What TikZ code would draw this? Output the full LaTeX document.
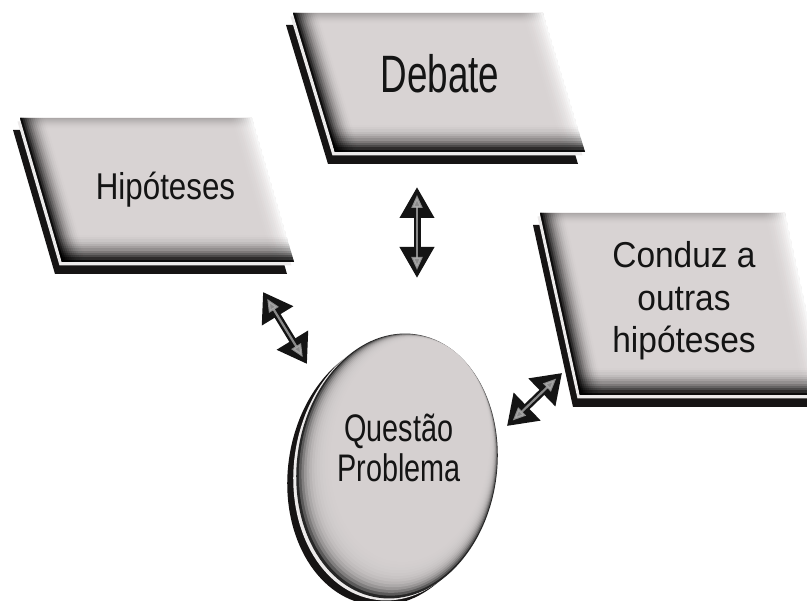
\documentclass[tikz,border=0pt]{standalone}
\usepackage{fontspec}
\setmainfont{Liberation Sans}
\usepackage{graphicx}
\usetikzlibrary{arrows.meta,calc}

\definecolor{face}{RGB}{216,211,211}
\definecolor{rim}{RGB}{236,234,234}
\definecolor{backplate}{RGB}{22,20,20}
\definecolor{ink}{RGB}{20,20,20}

% Soft band along a straight edge: from, to, half width, peak opacity, colour.
% Twelve stacked strokes whose opacities give a quadratic fall-off.
\newcommand\bevel[5]{%
  \foreach \j in {1,...,12}{%
    \pgfmathsetmacro\lw{2*#3*\j/12}%
    \pgfmathsetmacro\op{1-(1-#4*(1-(\j-1)/12)^2)/(1-#4*(1-\j/12)^2)}%
    \draw[line width=\lw pt, #5, opacity=\op] (#1) -- (#2);
  }%
}

% A bevelled slab: name, top-left x, top-left y, width, height, slant of the bottom edge
\newcommand\slab[6]{%
  \coordinate (#1-tl) at (#2,#3);
  \coordinate (#1-tr) at ({#2+#4},#3);
  \coordinate (#1-br) at ({#2+#4+#6},{#3+#5});
  \coordinate (#1-bl) at ({#2+#6},{#3+#5});
  % dark back plate and its light rim
  \fill[backplate] ([shift={(-7,12)}]#1-tl) -- ([shift={(-7,12)}]#1-tr)
     -- ([shift={(-7,12)}]#1-br) -- ([shift={(-7,12)}]#1-bl) -- cycle;
  \fill[rim] ([shift={(-2.5,3.5)}]#1-tl) -- ([shift={(-2.5,3.5)}]#1-tr)
     -- ([shift={(-2.5,3.5)}]#1-br) -- ([shift={(-2.5,3.5)}]#1-bl) -- cycle;
  % face with soft bevels
  \begin{scope}
    \clip (#1-tl) -- (#1-tr) -- (#1-br) -- (#1-bl) -- cycle;
    \fill[face] (#1-tl) -- (#1-tr) -- (#1-br) -- (#1-bl) -- cycle;
    \bevel{$(#1-tl)!-0.2!(#1-tr)$}{$(#1-tr)!-0.2!(#1-tl)$}{12}{0.18}{black}
    \bevel{$(#1-tr)!-0.2!(#1-br)$}{$(#1-br)!-0.2!(#1-tr)$}{24}{0.9}{white}
    \bevel{$(#1-tl)!-0.2!(#1-bl)$}{$(#1-bl)!-0.2!(#1-tl)$}{24}{0.92}{black}
    \bevel{$(#1-bl)!-0.2!(#1-br)$}{$(#1-br)!-0.2!(#1-bl)$}{27}{0.92}{black}
  \end{scope}
}

\begin{document}
\begin{tikzpicture}[x=1pt,y=-1pt,
  txt/.style={inner sep=0pt, anchor=base, text=ink},
  dblarrow/.style n args={2}{line width=7pt, draw=black!92,
    {Triangle[length=#1pt,width=#2pt]}-{Triangle[length=#1pt,width=#2pt]}},
  sheen/.style={line width=2.2pt, draw=gray!60, opacity=0.75,
    shorten <=8pt, shorten >=8pt,
    {Triangle[length=13pt,width=11pt]}-{Triangle[length=13pt,width=11pt]}},
  disc/.style={x radius=100, y radius=133}]

\useasboundingbox (0,0) rectangle (807,601);
\fill[white] (0,0) rectangle (807,601);

% slabs
\slab{hs}{20}{118}{232}{144}{42}
\slab{ds}{293}{13}{250}{139}{42}
\slab{cs}{540}{213}{245}{182}{40}

% disc: back plate, rim, dark base, then light layers drifting to the upper right
\fill[backplate, rotate around={-8:(388,473)}] (388,473) ellipse [disc];
\fill[rim, rotate around={-8:(394,468)}] (394,468) ellipse [disc];
\fill[black!85, rotate around={-8:(397,466)}] (397,466) ellipse [disc];
\foreach \j in {1,...,14}{
  \pgfmathsetmacro\cx{397+1.0*\j}
  \pgfmathsetmacro\cy{466-1.2*\j}
  \pgfmathsetmacro\rx{100-1.6*\j}
  \pgfmathsetmacro\ry{133-1.6*\j}
  \fill[face, opacity=0.3, rotate around={-8:(\cx,\cy)}]
    (\cx,\cy) ellipse [x radius=\rx, y radius=\ry];
}

% labels
\node[txt] (deb) at (440,93)
  {\fontsize{52.6}{60}\selectfont\scalebox{0.70}[1]{Debate}};
\node[txt] (hip) at (165.5,200)
  {\fontsize{37.3}{44}\selectfont\scalebox{0.84}[1]{Hipóteses}};
\node[txt] (cond) at (684,268)
  {\fontsize{36}{42.5}\selectfont\scalebox{0.93}[1]{\begin{tabular}[t]{@{}c@{}}Conduz a\\outras\\hipóteses\end{tabular}}};
\node[txt] (qp) at (399,442)
  {\fontsize{38.4}{40}\selectfont\scalebox{0.75}[1]{\begin{tabular}[t]{@{}c@{}}Questão\\Problema\end{tabular}}};

% connector end points
\coordinate (deb-s) at (417,187);
\coordinate (qp-n) at (417,278);
\coordinate (hip-se) at (263,292);
\coordinate (qp-nw) at (307,364);
\coordinate (cond-sw) at (562,373);
\coordinate (qp-ne) at (507,426);

% double arrows
\draw[dblarrow={31}{33}] (deb-s) -- (qp-n);
\draw[sheen] (deb-s) -- (qp-n);
\draw[dblarrow={28}{35}] (hip-se) -- (qp-nw);
\draw[sheen] (hip-se) -- (qp-nw);
\draw[dblarrow={28}{37}] (cond-sw) -- (qp-ne);
\draw[sheen] (cond-sw) -- (qp-ne);
\end{tikzpicture}
\end{document}
